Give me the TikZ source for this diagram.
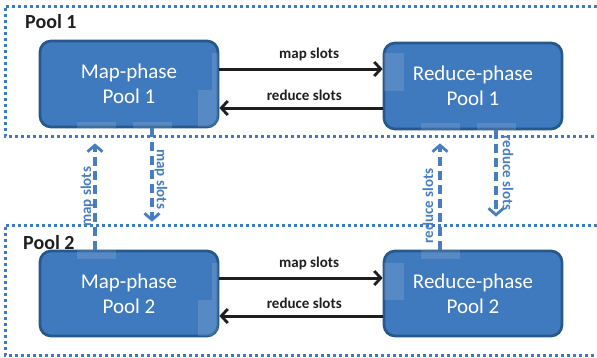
\documentclass[tikz,border=0pt]{standalone}
\usepackage{fontspec}
\setmainfont{Carlito}
\usetikzlibrary{arrows.meta}
\definecolor{boxfill}{RGB}{64,122,190}
\definecolor{boxline}{RGB}{38,88,140}
\definecolor{dotblue}{RGB}{60,122,196}
\definecolor{dashblue}{RGB}{70,126,192}
\definecolor{arrowblack}{RGB}{30,30,30}
\tikzset{
  phasebox/.style={draw=boxline, fill=boxfill, line width=2.7pt, rounded corners=11pt,
    minimum width=178pt, minimum height=86pt, inner sep=0pt, text=white,
    align=center, font=\fontsize{21}{25}\selectfont},
  poolframe/.style={draw=dotblue, line width=3pt, dash pattern=on 2.8pt off 3.2pt},
  poollabel/.style={font=\fontsize{20}{24}\selectfont\bfseries, text=black!88, anchor=base west, inner sep=0pt},
  harrow/.style={draw=arrowblack, line width=3pt, -{Straight Barb[length=6.5pt,width=14pt,line width=2.8pt]}},
  varrow/.style={draw=dashblue, line width=3.2pt, dash pattern=on 9pt off 5pt, -{Straight Barb[length=6.5pt,width=15pt,line width=2.8pt]}},
  hlabel/.style={font=\fontsize{15}{17}\selectfont\bfseries, text=black!88, inner sep=0pt, anchor=base},
  vlabel/.style={font=\fontsize{15}{17}\selectfont\bfseries, text=dashblue, inner sep=0pt},
  glare/.style={fill=white, fill opacity=0.12, draw=none}
}
\begin{document}
\begin{tikzpicture}[x=1pt,y=-1pt]
\useasboundingbox (0,0) rectangle (597,357);
% pools
\draw[poolframe] (597,6) -- (5,6) -- (5,136) -- (597,136);
\draw[poolframe] (597,225) -- (5,225) -- (5,355) -- (597,355);
\node[poollabel] (p1) at (25,28) {Pool 1};
\node[poollabel] (p2) at (23,249) {Pool 2};
% boxes
\node[phasebox] (m1) at (129,84) {Map-phase\\Pool 1};
\node[phasebox] (r1) at (473,86) {Reduce-phase\\Pool 1};
\node[phasebox, minimum height=85pt] (m2) at (129,293.5) {Map-phase\\Pool 2};
\node[phasebox, minimum height=85pt] (r2) at (473,293.5) {Reduce-phase\\Pool 2};
% glare patches
\fill[glare] (77,122) rectangle (116,128);
\fill[glare] (133,122) rectangle (172,128);
\fill[glare] (198,90) rectangle (218,127);
\fill[glare] (212,53) rectangle (218,90);
\fill[glare] (384,53) rectangle (404,91);
\fill[glare] (421,123) rectangle (460,130);
\fill[glare] (477,123) rectangle (516,130);
\fill[glare] (77,250) rectangle (116,259);
\fill[glare] (198,300) rectangle (218,336);
\fill[glare] (212,263) rectangle (218,300);
\fill[glare] (421,250) rectangle (460,259);
\fill[glare] (384,263) rectangle (404,300);
% horizontal arrows pool 1
\draw[harrow] ([yshift=15pt]m1.east) -- ([yshift=15pt]m1.east -| r1.west)
  node[hlabel, pos=0.55, yshift=11pt] (l1) {map slots};
\draw[harrow] ([yshift=-24pt]m1.east -| r1.west) -- ([yshift=-24pt]m1.east)
  node[hlabel, pos=0.48, yshift=8pt] (l2) {reduce slots};
% horizontal arrows pool 2
\draw[harrow] ([yshift=15.5pt]m2.east) -- ([yshift=15.5pt]m2.east -| r2.west)
  node[hlabel, pos=0.55, yshift=11pt] (l3) {map slots};
\draw[harrow] ([yshift=-22.5pt]m2.east -| r2.west) -- ([yshift=-22.5pt]m2.east)
  node[hlabel, pos=0.48, yshift=8pt] (l4) {reduce slots};
% vertical dashed arrows
\draw[varrow, shorten >=15pt] ([xshift=-34pt]m2.north) -- ([xshift=-34pt]m1.south);
\draw[varrow, shorten >=28pt] ([xshift=23pt]m1.south) -- ([xshift=23pt]m2.north);
\draw[varrow, shorten >=13pt] ([xshift=-33pt]r2.north) -- ([xshift=-33pt]r1.south);
\draw[varrow, shorten >=33pt] ([xshift=23pt]r1.south) -- ([xshift=23pt]r2.north);
\node[vlabel, rotate=90] (v1) at (87,197) {map slots};
\node[vlabel, rotate=-90] (v2) at (161,179) {map slots};
\node[vlabel, rotate=90] (v3) at (428,206) {reduce slots};
\node[vlabel, rotate=-90] (v4) at (508,173) {reduce slots};
\end{tikzpicture}
\end{document}
